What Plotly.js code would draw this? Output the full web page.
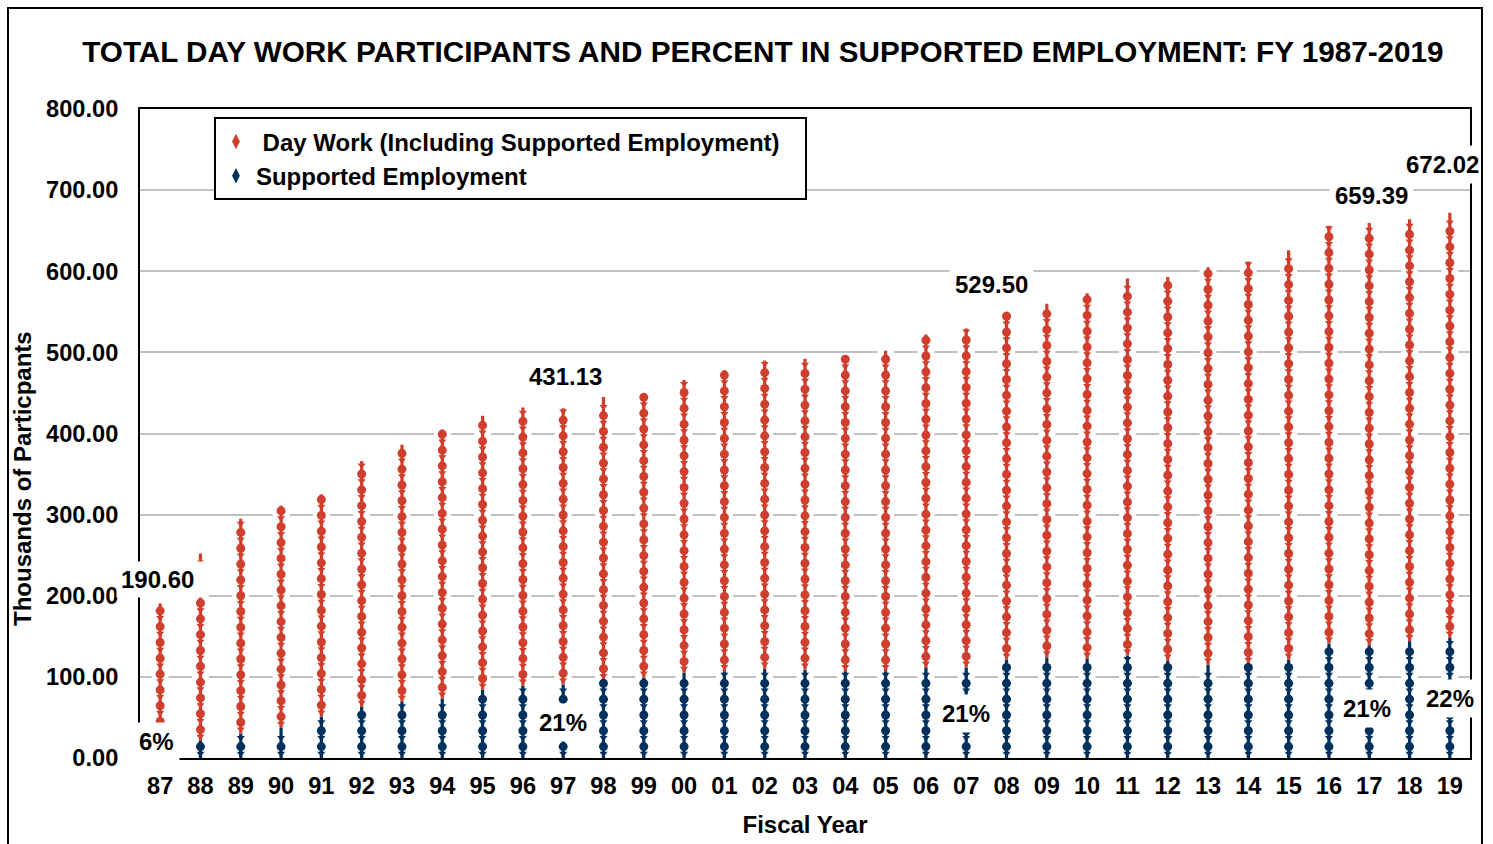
<!DOCTYPE html>
<html>
<head>
<meta charset="utf-8">
<script src="https://cdn.plot.ly/plotly-3.0.1.min.js"></script>
<style>
  html, body { margin: 0; padding: 0; background: #fff; }
  #chart { width: 1493px; height: 844px; position: absolute; left: 0; top: 0; }
  #frame { position: absolute; left: 7px; top: 7px; width: 1476px; height: 900px;
           border: 2px solid #000; pointer-events: none; box-sizing: border-box; }
</style>
</head>
<body>
<div id="chart"></div>
<div id="frame"></div>
<script>
// ---- data (thousands of participants) ----
const years = ['87','88','89','90','91','92','93','94','95','96','97','98','99','00','01','02','03','04','05','06','07','08','09','10','11','12','13','14','15','16','17','18','19'];
const totalDayWork = [190.60, 252, 295, 311, 325, 366, 386, 405, 422, 432, 431.13, 445, 450, 466, 478, 490, 492, 496, 502, 522, 529.50, 550, 560, 573, 591, 593, 605, 612, 626, 656, 659.39, 664, 672.02];
const supportedEmployment = [11.4, 21, 30, 37, 51, 63, 69, 73, 84, 89, 90.5, 96, 99, 105, 107, 110, 109, 107, 107, 111, 111.2, 121, 124, 122, 126, 120, 115, 116, 121, 141, 139, 144, 148];
const labelYears = ['87', '97', '07', '17', '19'];

// ---- styles ----
const RED = '#D03E2E';
const BLUE = '#00305C';
const FONT = 'Liberation Sans, Arial, sans-serif';
const ICON_UNIT = 19.5; // value units per stacked person icon

const dayWorkOnly = totalDayWork.map((t, i) => t - supportedEmployment[i]);

function icons(bases, tops) {
  const heads = {x: [], y: []}, bodies = {x: [], y: []};
  bases.forEach((b, i) => {
    const t = tops[i];
    for (let k = 0; b + k * ICON_UNIT < t; k++) {
      const by = b + k * ICON_UNIT + 0.28 * ICON_UNIT;
      const hy = b + k * ICON_UNIT + 0.72 * ICON_UNIT;
      if (by + 0.12 * ICON_UNIT <= t) { bodies.x.push(years[i]); bodies.y.push(by); }
      if (hy + 0.18 * ICON_UNIT <= t) { heads.x.push(years[i]); heads.y.push(hy); }
    }
  });
  return {heads, bodies};
}

const zeros = years.map(() => 0);
const seIcons = icons(zeros, supportedEmployment);
const dwIcons = icons(supportedEmployment, totalDayWork);

const traces = [
  {type: 'bar', x: years, y: totalDayWork, base: zeros, width: 0.42,
   marker: {color: '#ffffff', line: {width: 0}}, showlegend: false, hoverinfo: 'skip'},
  {type: 'bar', x: years, y: supportedEmployment, base: zeros, width: 0.08,
   marker: {color: BLUE, line: {width: 0}}, showlegend: false, hoverinfo: 'skip'},
  {type: 'bar', x: years, y: dayWorkOnly, base: supportedEmployment, width: 0.08,
   marker: {color: RED, line: {width: 0}}, showlegend: false, hoverinfo: 'skip'},
  {type: 'scatter', mode: 'markers', x: seIcons.bodies.x, y: seIcons.bodies.y,
   marker: {symbol: 'triangle-down', size: 7, color: BLUE}, showlegend: false, hoverinfo: 'skip'},
  {type: 'scatter', mode: 'markers', x: seIcons.heads.x, y: seIcons.heads.y,
   marker: {symbol: 'circle', size: 9, color: BLUE}, showlegend: false, hoverinfo: 'skip'},
  {type: 'scatter', mode: 'markers', x: dwIcons.bodies.x, y: dwIcons.bodies.y,
   marker: {symbol: 'triangle-down', size: 7, color: RED}, showlegend: false, hoverinfo: 'skip'},
  {type: 'scatter', mode: 'markers', x: dwIcons.heads.x, y: dwIcons.heads.y,
   marker: {symbol: 'circle', size: 9, color: RED}, showlegend: false, hoverinfo: 'skip'},
  // legend entries
  {type: 'scatter', mode: 'markers', x: [null], y: [null], name: '\u00a0Day Work (Including Supported Employment)\u00a0\u00a0\u00a0',
   marker: {symbol: 'diamond-tall', size: 11, color: RED}, legendrank: 1},
  {type: 'scatter', mode: 'markers', x: [null], y: [null], name: 'Supported Employment',
   marker: {symbol: 'diamond-tall', size: 11, color: BLUE}, legendrank: 2}
];

// label placement (pixel shifts)
const totalShift = {'87': [2, 24], '97': [2, 32], '07': [25, 44], '17': [2, 28], '19': [-7, 48]};
const pctShift = {'87': [-4, 17], '97': [0, 36], '07': [0, 45], '17': [-2, 50], '19': [0, 60]};

const LABEL_FONT = {family: FONT, size: 24, color: '#000', weight: 'bold'};
const annotations = [];
labelYears.forEach(yr => {
  const i = years.indexOf(yr);
  const first = yr === '87';
  annotations.push(Object.assign({
    x: i, y: totalDayWork[i], xref: 'x', yref: 'y', text: totalDayWork[i].toFixed(2),
    showarrow: false, xshift: totalShift[yr][0], yshift: totalShift[yr][1],
    bgcolor: '#ffffff', borderpad: first ? 4 : 5, font: LABEL_FONT
  }, first ? {width: 82, align: 'left'} : {}));
  annotations.push({
    x: i, y: 0, xref: 'x', yref: 'y',
    text: Math.round(supportedEmployment[i] / totalDayWork[i] * 100) + '%',
    showarrow: false, xshift: pctShift[yr][0], yshift: pctShift[yr][1],
    bgcolor: '#ffffff', borderpad: 5, font: LABEL_FONT
  });
});
// y-axis title (offset below the axis centre as in the original)
annotations.push({
  xref: 'paper', yref: 'paper', x: (22 - 140) / 1330, y: (758 - 478) / 649,
  xanchor: 'center', yanchor: 'middle', textangle: -90, showarrow: false,
  text: 'Thousands of Particpants', font: {family: FONT, size: 24, color: '#000', weight: 'bold'}
});

const layout = {
  width: 1493, height: 844,
  margin: {l: 140, r: 23, t: 109, b: 86},
  paper_bgcolor: '#ffffff', plot_bgcolor: '#ffffff',
  barmode: 'overlay',
  font: {family: FONT, color: '#000'},
  title: {
    text: 'TOTAL DAY WORK PARTICIPANTS AND PERCENT IN SUPPORTED EMPLOYMENT: FY 1987-2019',
    x: 0.511, xanchor: 'center', y: 1 - 52 / 844, yanchor: 'middle',
    font: {family: FONT, size: 29.7, color: '#000', weight: 'bold'}
  },
  xaxis: {
    type: 'category', range: [-0.5, years.length - 0.5],
    showline: true, linecolor: '#000', linewidth: 2, mirror: true,
    showgrid: false, zeroline: false, ticks: '', ticklabelstandoff: 6,
    tickfont: {family: FONT, size: 23.6, color: '#000', weight: 'bold'},
    title: {text: 'Fiscal Year', standoff: 18, font: {family: FONT, size: 24, color: '#000', weight: 'bold'}}
  },
  yaxis: {
    range: [0, 800], dtick: 100, tickformat: '.2f',
    showline: true, linecolor: '#000', linewidth: 2, mirror: true,
    showgrid: true, gridcolor: '#c0c0c0', gridwidth: 2, zeroline: false,
    ticks: '', ticklabelstandoff: 15,
    tickfont: {family: FONT, size: 23.6, color: '#000', weight: 'bold'}
  },
  legend: {
    x: 0.0556, y: 0.987, xanchor: 'left', yanchor: 'top',
    bgcolor: '#ffffff', bordercolor: '#000', borderwidth: 2,
    font: {family: FONT, size: 24, color: '#000', weight: 'bold'},
    traceorder: 'normal', tracegroupgap: 0, itemwidth: 30
  },
  annotations: annotations
};

Plotly.newPlot('chart', traces, layout, {displayModeBar: false, staticPlot: true});
</script>
</body>
</html>
